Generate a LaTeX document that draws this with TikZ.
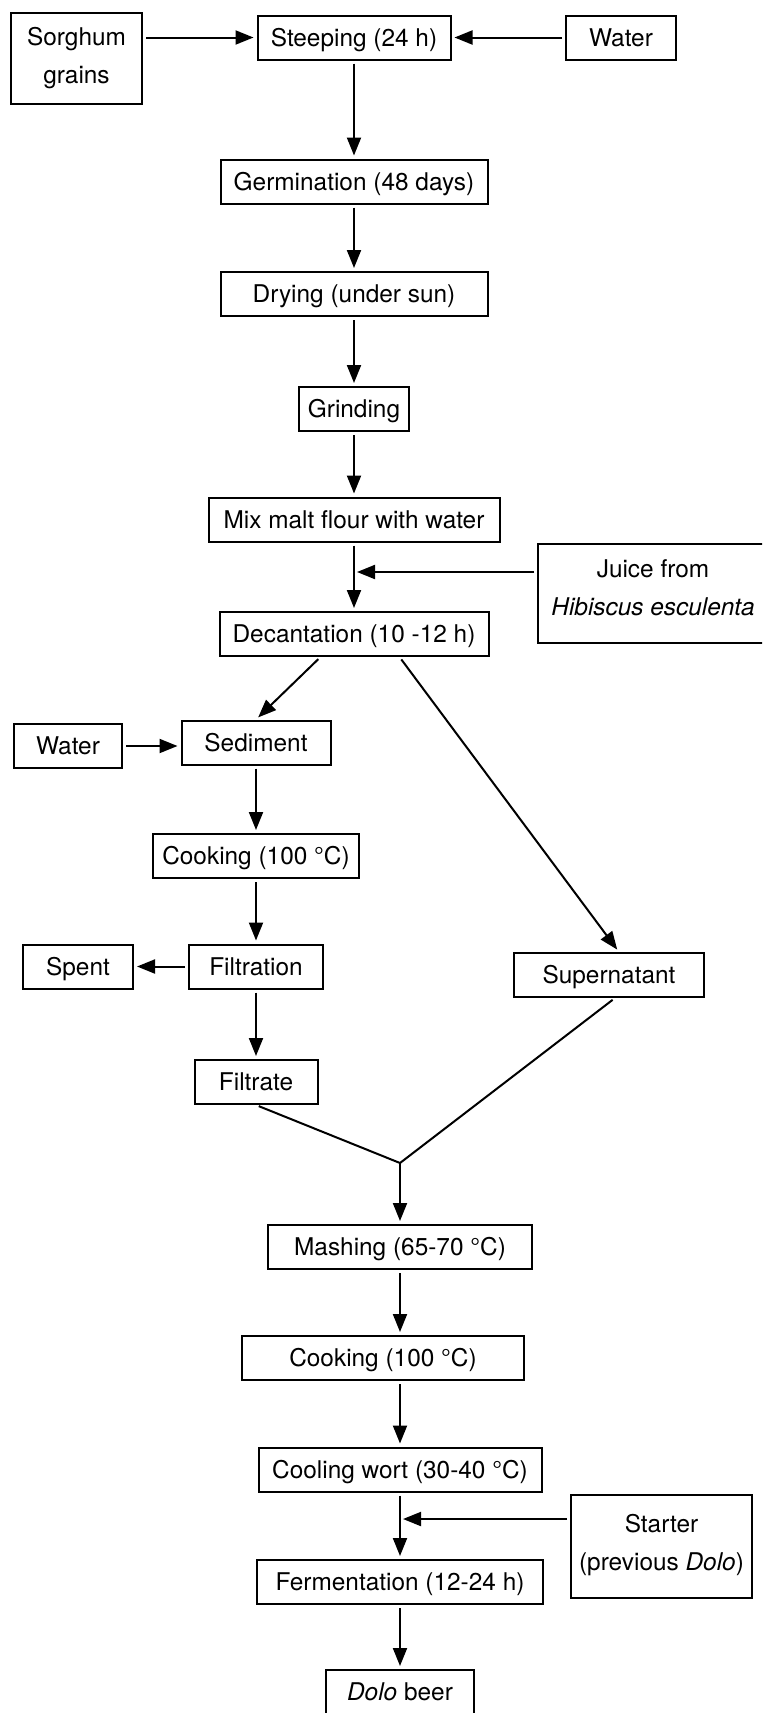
\documentclass[tikz,border=0pt]{standalone}
\usepackage{fontspec}
\setmainfont{TeX Gyre Heros}
\usepackage{tikz}
\usetikzlibrary{shapes,arrows.meta}
\usetikzlibrary{positioning}
\tikzstyle{block} = [draw, line width=1pt, rectangle, inner sep=0pt,
    minimum height=22pt, align=center, font=\fontsize{12.2}{19}\selectfont,
    text height=11pt, text depth=2.2pt]
\tikzstyle{tallblock} = [draw, line width=1pt, rectangle, inner sep=0pt,
    align=center, font=\fontsize{12.2}{19}\selectfont]

\begin{document}
\begin{tikzpicture}[x=0.5pt,y=-0.5pt]
\useasboundingbox (0,0) rectangle (762,1713);
\clip (0,0) rectangle (762,1713);

\tikzset{>={Triangle[length=9pt,width=7pt]},shorten <=1.5pt,shorten >=1.5pt}
\tikzstyle{plain} = [line width=1pt];

% main line
\node[tallblock,minimum width=65.5pt,minimum height=45.5pt] (i0) at (76.5,58.5) {Sorghum\\grains};
\node[block,minimum width=96.5pt] (p0) at (354,37.5) {Steeping (24 h)};
\node[block,minimum width=55pt] (i1) at (621,37.5) {Water};
\node[block,minimum width=133.5pt] (p1) at (354,181.5) {Germination (48 days)};
\node[block,minimum width=133.5pt] (p2) at (354,294) {Drying (under sun)};
\node[block,minimum width=55pt] (p3) at (354,409) {Grinding};
\node[block,minimum width=145.5pt] (p4) at (354,519.5) {Mix malt flour with water};
\node[tallblock,minimum width=115pt,minimum height=49.5pt] (i2) at (653,593.5) {Juice from\\\textit{Hibiscus esculenta}\\[-13pt]\mbox{}};
\node[block,minimum width=134.5pt] (p5) at (354,634) {Decantation (10 -12 h)};

% sediment side
\node[block,minimum width=74.5pt] (s0) at (256,742.5) {Sediment};
\node[block,minimum width=54pt] (i3) at (68,746) {Water};
\node[block,minimum width=103pt] (s1) at (256,856) {Cooking (100 °C)};
\node[block,minimum width=67pt] (s2) at (256,966.5) {Filtration};
\node[block,minimum width=55pt] (o0) at (78,966.5) {Spent};
\node[block,minimum width=61.5pt] (s3) at (256,1082) {Filtrate};
\node[block,minimum width=95pt] (t0) at (609,975) {Supernatant};
\coordinate (j0) at (400,1163);

% brewing
\node[block,minimum width=132pt] (b0) at (400,1247) {Mashing (65-70 °C)};
\node[block,minimum width=141pt] (b1) at (383,1358) {Cooking (100 °C)};
\node[block,minimum width=141.5pt] (b2) at (400,1469.5) {Cooling wort (30-40 °C)};
\node[tallblock,minimum width=90.5pt,minimum height=51.5pt] (i4) at (661.5,1546.5) {Starter\\(previous \textit{Dolo})\\[-14.6pt]\mbox{}};
\node[block,minimum width=143pt] (b3) at (400,1582) {Fermentation (12-24 h)};
\node[block,minimum width=74pt] (b4) at (400,1692) {\textit{Dolo} beer};

\coordinate (jin) at (354,572);
\coordinate (sin) at (400,1519);

\draw[plain,->] (i0.east |- p0.west) -- (p0.west);
\draw[plain,->] (i1) -- (p0);
\draw[plain,->] (p0) -- (p1);
\draw[plain,->] (p1) -- (p2);
\draw[plain,->] (p2) -- (p3);
\draw[plain,->] (p3) -- (p4);
\draw[plain,->] (p4) -- (p5);
\draw[plain,->] (i2.west |- jin) -- (jin);

\draw[plain,->] ([xshift=-16.75pt]p5.south) -- (s0.north);
\draw[plain,->] ([xshift=22.75pt]p5.south) -- ([xshift=5pt]t0.north);
\draw[plain,->] (i3.east) -- (i3.east -| s0.west);
\draw[plain,->] (s0) -- (s1);
\draw[plain,->] (s1) -- (s2);
\draw[plain,->] (s2) -- (o0);
\draw[plain,->] (s2) -- (s3);
\draw[plain,shorten >=0pt] (s3.south) -- (j0);
\draw[plain,shorten >=0pt] ([xshift=3pt]t0.south) -- (j0);
\draw[plain,->,shorten <=0pt] (j0) -- (b0.north);

\draw[plain,->] (b0.south) -- (b0.south |- b1.north);
\draw[plain,->] (b2.north |- b1.south) -- (b2.north);
\draw[plain,->] (b2) -- (b3);
\draw[plain,->] (i4.west |- sin) -- (sin);
\draw[plain,->] (b3) -- (b4);

\end{tikzpicture}
\end{document}
